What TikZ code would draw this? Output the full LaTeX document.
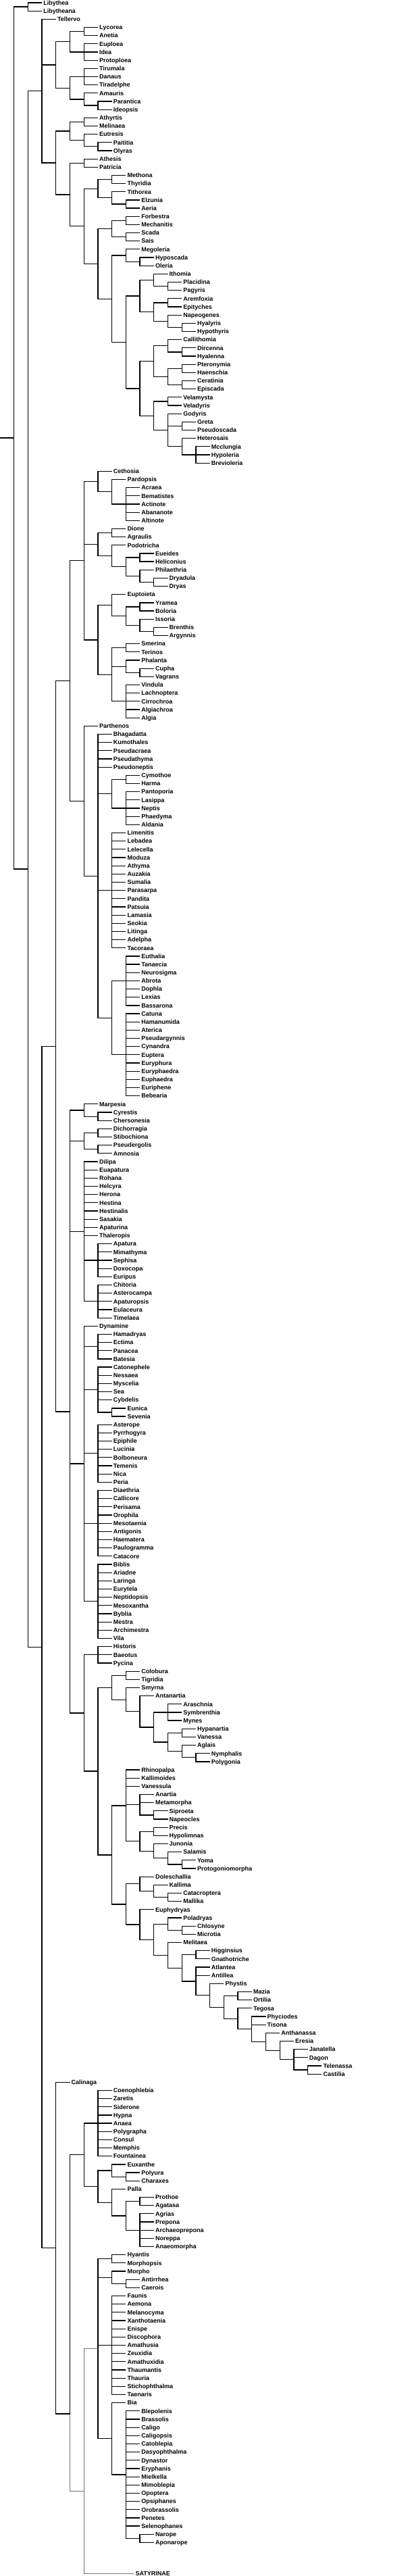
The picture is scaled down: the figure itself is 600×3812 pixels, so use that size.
\documentclass[tikz,border=0pt]{standalone}
\usepackage{fontspec}
\setmainfont{Liberation Sans}
\usetikzlibrary{calc}
\newcount\lfi
\newcommand\lf[2]{\global\advance\lfi by 1\relax
  \node[lf] (#1) at ({20.67pt+#2*20.714pt},{8.163pt-\the\lfi*12.163pt}) {#1};}
\newcommand\lfs[2]{\foreach \nm in {#2} {\lf{\nm}{#1}}}
\newcommand\clade[3]{%
  \foreach \c [count=\i] in {#3} {\ifnum\i=1 \xdef\cfirst{\c}\fi \xdef\clast{\c}}%
  \path let \p1=(\cfirst), \p2=(\clast) in coordinate (#1) at ({20.67pt+#2*20.714pt},{0.5*\y1+0.5*\y2});%
  \foreach \c in {#3} {\draw[br] (#1) |- (\c);}%
}
\tikzset{
  lf/.style={anchor=west, inner xsep=2pt, inner ysep=0pt, text height=6.5pt, text depth=0pt,
    font=\fontsize{9}{10}\selectfont\bfseries},
  br/.style={line width=1.2pt, black},
  gr/.style={line width=0.8pt, black!55}
}
\begin{document}
\begin{tikzpicture}
\useasboundingbox (0,0) rectangle (600pt,-3812pt);
% ---------------- leaves (in order) ----------------
\lfs{2}{Libythea,Libytheana}
\lf{Tellervo}{3}
\lfs{6}{Lycorea,Anetia,Euploea,Idea,Protoploea,Tirumala,Danaus,Tiradelphe,Amauris}
\lfs{7}{Parantica,Ideopsis}
\lfs{6}{Athyrtis,Melinaea,Eutresis}
\lfs{7}{Paititia,Olyras}
\lfs{6}{Athesis,Patricia}
\lfs{8}{Methona,Thyridia,Tithorea}
\lfs{9}{Elzunia,Aeria,Forbestra,Mechanitis,Scada,Sais,Megoleria}
\lfs{10}{Hyposcada,Oleria}
\lf{Ithomia}{11}
\lfs{12}{Placidina,Pagyris,Aremfoxia,Epityches,Napeogenes}
\lfs{13}{Hyalyris,Hypothyris}
\lf{Callithomia}{12}
\lfs{13}{Dircenna,Hyalenna,Pteronymia,Haenschia,Ceratinia,Episcada}
\lfs{12}{Velamysta,Veladyris,Godyris}
\lfs{13}{Greta,Pseudoscada,Heterosais}
\lfs{14}{Mcclungia,Hypoleria,Brevioleria}
\lf{Cethosia}{7}
\lf{Pardopsis}{8}
\lfs{9}{Acraea,Bematistes,Actinote,Abananote,Altinote}
\lfs{8}{Dione,Agraulis,Podotricha}
\lfs{10}{Eueides,Heliconius,Philaethria}
\lfs{11}{Dryadula,Dryas}
\lf{Euptoieta}{8}
\lfs{10}{Yramea,Boloria,Issoria}
\lfs{11}{Brenthis,Argynnis}
\lfs{9}{Smerina,Terinos,Phalanta}
\lfs{10}{Cupha,Vagrans}
\lfs{9}{Vindula,Lachnoptera,Cirrochroa,Algiachroa,Algia}
\lf{Parthenos}{6}
\lfs{7}{Bhagadatta,Kumothales,Pseudacraea,Pseudathyma,Pseudoneptis}
\lfs{9}{Cymothoe,Harma,Pantoporia,Lasippa,Neptis,Phaedyma,Aldania}
\lfs{8}{Limenitis,Lebadea,Lelecella,Moduza,Athyma,Auzakia,Sumalia,Parasarpa,Pandita,Patsuia,Lamasia,Seokia,Litinga,Adelpha,Tacoraea}
\lfs{9}{Euthalia,Tanaecia,Neurosigma,Abrota,Dophla,Lexias,Bassarona}
\lfs{9}{Catuna,Hamanumida,Aterica,Pseudargynnis,Cynandra,Euptera,Euryphura,Euryphaedra,Euphaedra,Euriphene,Bebearia}
\lf{Marpesia}{6}
\lfs{7}{Cyrestis,Chersonesia,Dichorragia,Stibochiona,Pseudergolis,Amnosia}
\lfs{6}{Dilipa,Euapatura,Rohana,Helcyra,Herona,Hestina,Hestinalis,Sasakia,Apaturina,Thaleropis}
\lfs{7}{Apatura,Mimathyma,Sephisa,Doxocopa,Euripus,Chitoria,Asterocampa,Apaturopsis,Eulaceura,Timelaea}
\lf{Dynamine}{6}
\lfs{7}{Hamadryas,Ectima,Panacea,Batesia,Catonephele,Nessaea,Myscelia,Sea,Cybdelis}
\lfs{8}{Eunica,Sevenia}
\lfs{7}{Asterope,Pyrrhogyra,Epiphile,Lucinia,Bolboneura,Temenis,Nica,Peria}
\lfs{7}{Diaethria,Callicore,Perisama,Orophila,Mesotaenia,Antigonis,Haematera,Paulogramma,Catacore}
\lfs{7}{Biblis,Ariadne,Laringa,Eurytela,Neptidopsis,Mesoxantha,Byblia,Mestra,Archimestra,Vila}
\lfs{7}{Historis,Baeotus,Pycina}
\lfs{9}{Colobura,Tigridia,Smyrna}
\lf{Antanartia}{10}
\lfs{12}{Araschnia,Symbrenthia,Mynes}
\lfs{13}{Hypanartia,Vanessa,Aglais}
\lfs{14}{Nymphalis,Polygonia}
\lfs{9}{Rhinopalpa,Kallimoides,Vanessula}
\lfs{10}{Anartia,Metamorpha}
\lfs{11}{Siproeta,Napeocles,Precis,Hypolimnas,Junonia}
\lf{Salamis}{12}
\lfs{13}{Yoma,Protogoniomorpha}
\lf{Doleschallia}{10}
\lf{Kallima}{11}
\lfs{12}{Catacroptera,Mallika}
\lf{Euphydryas}{10}
\lf{Poladryas}{12}
\lfs{13}{Chlosyne,Microtia}
\lf{Melitaea}{12}
\lfs{14}{Higginsius,Gnathotriche,Atlantea,Antillea}
\lf{Phystis}{15}
\lfs{17}{Mazia,Ortilia,Tegosa}
\lfs{18}{Phyciodes,Tisona}
\lf{Anthanassa}{19}
\lf{Eresia}{20}
\lfs{21}{Janatella,Dagon}
\lfs{22}{Telenassa,Castilia}
\lf{Calinaga}{4}
\lfs{7}{Coenophlebia,Zaretis,Siderone,Hypna,Anaea,Polygrapha,Consul,Memphis,Fountainea}
\lf{Euxanthe}{8}
\lfs{9}{Polyura,Charaxes}
\lf{Palla}{8}
\lfs{10}{Prothoe,Agatasa,Agrias,Prepona,Archaeoprepona,Noreppa,Anaeomorpha}
\lfs{8}{Hyantis,Morphopsis,Morpho}
\lfs{9}{Antirrhea,Caerois}
\lfs{8}{Faunis,Aemona,Melanocyma,Xanthotaenia,Enispe,Discophora,Amathusia,Zeuxidia,Amathuxidia,Thaumantis,Thauria,Stichophthalma,Taenaris,Bia}
\lfs{9}{Blepolenis,Brassolis,Caligo,Caligopsis,Catoblepia,Dasyophthalma,Dynastor,Eryphanis,Mielkella,Mimoblepia,Opoptera,Opsiphanes,Orobrassolis,Penetes,Selenophanes}
\lfs{10}{Narope,Aponarope}
\node[lf] (SATYRINAE) at (198.3pt,-3808pt) {SATYRINAE};
% ---------------- clades ----------------
\clade{nA}{1}{Libythea,Libytheana}
\clade{nD1a}{5}{Lycorea,Anetia}
\clade{nD1b}{5}{Euploea,Idea,Protoploea}
\clade{nD1}{4}{nD1a,nD1b}
\clade{nD2a}{5}{Tirumala,Danaus,Tiradelphe}
\clade{nD2c}{6}{Parantica,Ideopsis}
\clade{nD2b}{5}{Amauris,nD2c}
\clade{nD2}{4}{nD2a,nD2b}
\clade{nDan}{3}{nD1,nD2}
\clade{nI1a}{5}{Athyrtis,Melinaea}
\clade{nI1c}{6}{Paititia,Olyras}
\clade{nI1b}{5}{Eutresis,nI1c}
\clade{nI1}{4}{nI1a,nI1b}
\clade{nI2a}{5}{Athesis,Patricia}
\clade{nI3a}{7}{Methona,Thyridia}
\clade{nI3c}{8}{Elzunia,Aeria}
\clade{nI3b}{7}{Tithorea,nI3c}
\clade{nI3}{6}{nI3a,nI3b}
\clade{nI5a}{8}{Forbestra,Mechanitis}
\clade{nI5b}{8}{Scada,Sais}
\clade{nI5}{7}{nI5a,nI5b}
\clade{nI6b}{9}{Hyposcada,Oleria}
\clade{nI6a}{8}{Megoleria,nI6b}
\clade{nI8b}{11}{Placidina,Pagyris}
\clade{nI8a}{10}{Ithomia,nI8b}
\clade{nI8d}{11}{Aremfoxia,Epityches}
\clade{nI8f}{12}{Hyalyris,Hypothyris}
\clade{nI8e}{11}{Napeogenes,nI8f}
\clade{nI8c}{10}{nI8d,nI8e}
\clade{nI8}{9}{nI8a,nI8c}
\clade{nI9d}{12}{Dircenna,Hyalenna}
\clade{nI9c}{11}{Callithomia,nI9d}
\clade{nI9f}{12}{Pteronymia,Haenschia}
\clade{nI9g}{12}{Ceratinia,Episcada}
\clade{nI9e}{11}{nI9f,nI9g}
\clade{nI9a}{10}{nI9c,nI9e}
\clade{nI9h}{11}{Velamysta,Veladyris}
\clade{nI9j}{12}{Greta,Pseudoscada}
\clade{nI9l}{13}{Mcclungia,Hypoleria,Brevioleria}
\clade{nI9k}{12}{Heterosais,nI9l}
\clade{nI9i}{11}{Godyris,nI9j,nI9k}
\clade{nI9b}{10}{nI9h,nI9i}
\clade{nI9}{9}{nI9a,nI9b}
\clade{nI7}{8}{nI8,nI9}
\clade{nI6}{7}{nI6a,nI7}
\clade{nI4}{6}{nI5,nI6}
\clade{nI2b}{5}{nI3,nI4}
\clade{nI2}{4}{nI2a,nI2b}
\clade{nIth}{3}{nI1,nI2}
\clade{nC}{2}{Tellervo,nDan,nIth}
% Heliconiinae
\clade{nJ1b}{8}{Acraea,Bematistes,Actinote,Abananote,Altinote}
\clade{nJ1a}{7}{Pardopsis,nJ1b}
\clade{nJ1}{6}{Cethosia,nJ1a}
\clade{nJ2a}{7}{Dione,Agraulis}
\clade{nJ2d}{9}{Eueides,Heliconius}
\clade{nJ2f}{10}{Dryadula,Dryas}
\clade{nJ2e}{9}{Philaethria,nJ2f}
\clade{nJ2c}{8}{nJ2d,nJ2e}
\clade{nJ2b}{7}{Podotricha,nJ2c}
\clade{nJ2}{6}{nJ2a,nJ2b}
\clade{nJ3d}{9}{Yramea,Boloria}
\clade{nJ3f}{10}{Brenthis,Argynnis}
\clade{nJ3e}{9}{Issoria,nJ3f}
\clade{nJ3c}{8}{nJ3d,nJ3e}
\clade{nJ3a}{7}{Euptoieta,nJ3c}
\clade{nJ3g}{8}{Smerina,Terinos}
\clade{nJ3i}{9}{Cupha,Vagrans}
\clade{nJ3h}{8}{Phalanta,nJ3i}
\clade{nJ3j}{8}{Vindula,Lachnoptera,Cirrochroa,Algiachroa,Algia}
\clade{nJ3b}{7}{nJ3g,nJ3h,nJ3j}
\clade{nJ3}{6}{nJ3a,nJ3b}
\clade{nJ}{5}{nJ1,nJ2,nJ3}
% Limenitidinae
\clade{nK2a}{8}{Cymothoe,Harma}
\clade{nK2b}{8}{Pantoporia,Lasippa,Neptis,Phaedyma,Aldania}
\clade{nK2}{7}{nK2a,nK2b}
\clade{nK3}{7}{Limenitis,Lebadea,Lelecella,Moduza,Athyma,Auzakia,Sumalia,Parasarpa,Pandita,Patsuia,Lamasia,Seokia,Litinga,Adelpha,Tacoraea}
\clade{nK4a}{8}{Euthalia,Tanaecia,Neurosigma,Abrota,Dophla,Lexias,Bassarona}
\clade{nK4b}{8}{Catuna,Hamanumida,Aterica,Pseudargynnis,Cynandra,Euptera,Euryphura,Euryphaedra,Euphaedra,Euriphene,Bebearia}
\clade{nK4}{7}{nK4a,nK4b}
\clade{nK1}{6}{Bhagadatta,Kumothales,Pseudacraea,Pseudathyma,Pseudoneptis,nK2,nK3,nK4}
\clade{nK}{5}{Parthenos,nK1}
\clade{nH}{4}{nJ,nK}
% Cyrestinae, Pseudergolinae, Apaturinae
\clade{nCya}{6}{Cyrestis,Chersonesia}
\clade{nCy}{5}{Marpesia,nCya}
\clade{nPsa}{6}{Dichorragia,Stibochiona}
\clade{nPsb}{6}{Pseudergolis,Amnosia}
\clade{nPs}{5}{nPsa,nPsb}
\clade{nApa}{6}{Apatura,Mimathyma,Sephisa,Doxocopa,Euripus}
\clade{nApb}{6}{Chitoria,Asterocampa,Apaturopsis,Eulaceura,Timelaea}
\clade{nAp}{5}{Dilipa,Euapatura,Rohana,Helcyra,Herona,Hestina,Hestinalis,Sasakia,Apaturina,Thaleropis,nApa,nApb}
% Biblidinae
\clade{nBi1}{6}{Hamadryas,Ectima,Panacea,Batesia}
\clade{nBi3}{7}{Eunica,Sevenia}
\clade{nBi2}{6}{Catonephele,Nessaea,Myscelia,Sea,Cybdelis,nBi3}
\clade{nBi4}{6}{Asterope,Pyrrhogyra,Epiphile,Lucinia,Bolboneura,Temenis,Nica,Peria}
\clade{nBi5}{6}{Diaethria,Callicore,Perisama,Orophila,Mesotaenia,Antigonis,Haematera,Paulogramma,Catacore}
\clade{nBi6}{6}{Biblis,Ariadne,Laringa,Eurytela,Neptidopsis,Mesoxantha,Byblia,Mestra,Archimestra,Vila}
\clade{nBi}{5}{Dynamine,nBi1,nBi2,nBi4,nBi5,nBi6}
% Nymphalinae
\clade{nNy1}{6}{Historis,Baeotus,Pycina}
\clade{nNy3a}{8}{Colobura,Tigridia}
\clade{nNy3e}{11}{Araschnia,Symbrenthia,Mynes}
\clade{nNy3g}{12}{Hypanartia,Vanessa}
\clade{nNy3i}{13}{Nymphalis,Polygonia}
\clade{nNy3h}{12}{Aglais,nNy3i}
\clade{nNy3f}{11}{nNy3g,nNy3h}
\clade{nNy3d}{10}{nNy3e,nNy3f}
\clade{nNy3c}{9}{Antanartia,nNy3d}
\clade{nNy3b}{8}{Smyrna,nNy3c}
\clade{nNy3}{7}{nNy3a,nNy3b}
\clade{nNy5b}{10}{Siproeta,Napeocles}
\clade{nNy5a}{9}{Anartia,Metamorpha,nNy5b}
\clade{nNy5d}{10}{Precis,Hypolimnas}
\clade{nNy5g}{12}{Yoma,Protogoniomorpha}
\clade{nNy5f}{11}{Salamis,nNy5g}
\clade{nNy5e}{10}{Junonia,nNy5f}
\clade{nNy5c}{9}{nNy5d,nNy5e}
\clade{nNy5}{8}{Rhinopalpa,Kallimoides,Vanessula,nNy5a,nNy5c}
\clade{nNy6c}{11}{Catacroptera,Mallika}
\clade{nNy6b}{10}{Kallima,nNy6c}
\clade{nNy6a}{9}{Doleschallia,nNy6b}
\clade{nNy7b}{12}{Chlosyne,Microtia}
\clade{nNy7a}{11}{Poladryas,nNy7b}
\clade{nNy18}{21}{Telenassa,Castilia}
\clade{nNy17}{20}{Janatella,Dagon,nNy18}
\clade{nNy16}{19}{Eresia,nNy17}
\clade{nNy15}{18}{Anthanassa,nNy16}
\clade{nNy14}{17}{Phyciodes,Tisona,nNy15}
\clade{nNy13}{16}{Tegosa,nNy14}
\clade{nNy12a}{16}{Mazia,Ortilia}
\clade{nNy12}{15}{nNy12a,nNy13}
\clade{nNy11}{14}{Phystis,nNy12}
\clade{nNy10}{13}{Atlantea,Antillea,nNy11}
\clade{nNy9a}{13}{Higginsius,Gnathotriche}
\clade{nNy9}{12}{nNy9a,nNy10}
\clade{nNy8}{11}{Melitaea,nNy9}
\clade{nNy7}{10}{nNy7a,nNy8}
\clade{nNy6d}{9}{Euphydryas,nNy7}
\clade{nNy6}{8}{nNy6a,nNy6d}
\clade{nNy4}{7}{nNy5,nNy6}
\clade{nNy2}{6}{nNy3,nNy4}
\clade{nNy}{5}{nNy1,nNy2}
\clade{nIx}{4}{nCy,nPs,nAp,nBi,nNy}
\clade{nE}{3}{nH,nIx}
% Charaxinae
\clade{nCh1}{6}{Coenophlebia,Zaretis,Siderone,Hypna,Anaea,Polygrapha,Consul,Memphis,Fountainea}
\clade{nCh2b}{8}{Polyura,Charaxes}
\clade{nCh2a}{7}{Euxanthe,nCh2b}
\clade{nCh2e}{9}{Prothoe,Agatasa}
\clade{nCh2f}{9}{Agrias,Prepona,Archaeoprepona,Noreppa,Anaeomorpha}
\clade{nCh2d}{8}{nCh2e,nCh2f}
\clade{nCh2c}{7}{Palla,nCh2d}
\clade{nCh2}{6}{nCh2a,nCh2c}
\clade{nCh}{5}{nCh1,nCh2}
% Morphinae
\clade{nMo1}{7}{Hyantis,Morphopsis}
\clade{nMo2a}{8}{Antirrhea,Caerois}
\clade{nMo2}{7}{Morpho,nMo2a}
\clade{nMo3}{7}{Faunis,Aemona,Melanocyma,Xanthotaenia,Enispe,Discophora,Amathusia,Zeuxidia,Amathuxidia,Thaumantis,Thauria,Stichophthalma,Taenaris}
\clade{nMo6}{9}{Narope,Aponarope}
\clade{nMo5}{8}{Blepolenis,Brassolis,Caligo,Caligopsis,Catoblepia,Dasyophthalma,Dynastor,Eryphanis,Mielkella,Mimoblepia,Opoptera,Opsiphanes,Orobrassolis,Penetes,Selenophanes,nMo6}
\clade{nMo4}{7}{Bia,nMo5}
\clade{nMo}{6}{nMo1,nMo2,nMo3,nMo4}
% satyrine clade
\coordinate (nX) at ({20.67pt+4*20.714pt},-3572pt);
\coordinate (nY) at ({20.67pt+5*20.714pt},-3686.7pt);
\draw[br] (nX) |- (nCh);
\draw[gr] (nX) |- (nY);
\draw[gr] (nY) |- (nMo);
\draw[gr] (nY) |- (SATYRINAE);
\clade{nF}{3}{Calinaga,nX}
\clade{nD}{2}{nE,nF}
\clade{nB}{1}{nC,nD}
\clade{nR}{0}{nA,nB}
\coordinate (O) at (0,0);
\coordinate (rootstem) at (nR -| O);
\draw[br] (rootstem) -- (nR);
\end{tikzpicture}
\end{document}
